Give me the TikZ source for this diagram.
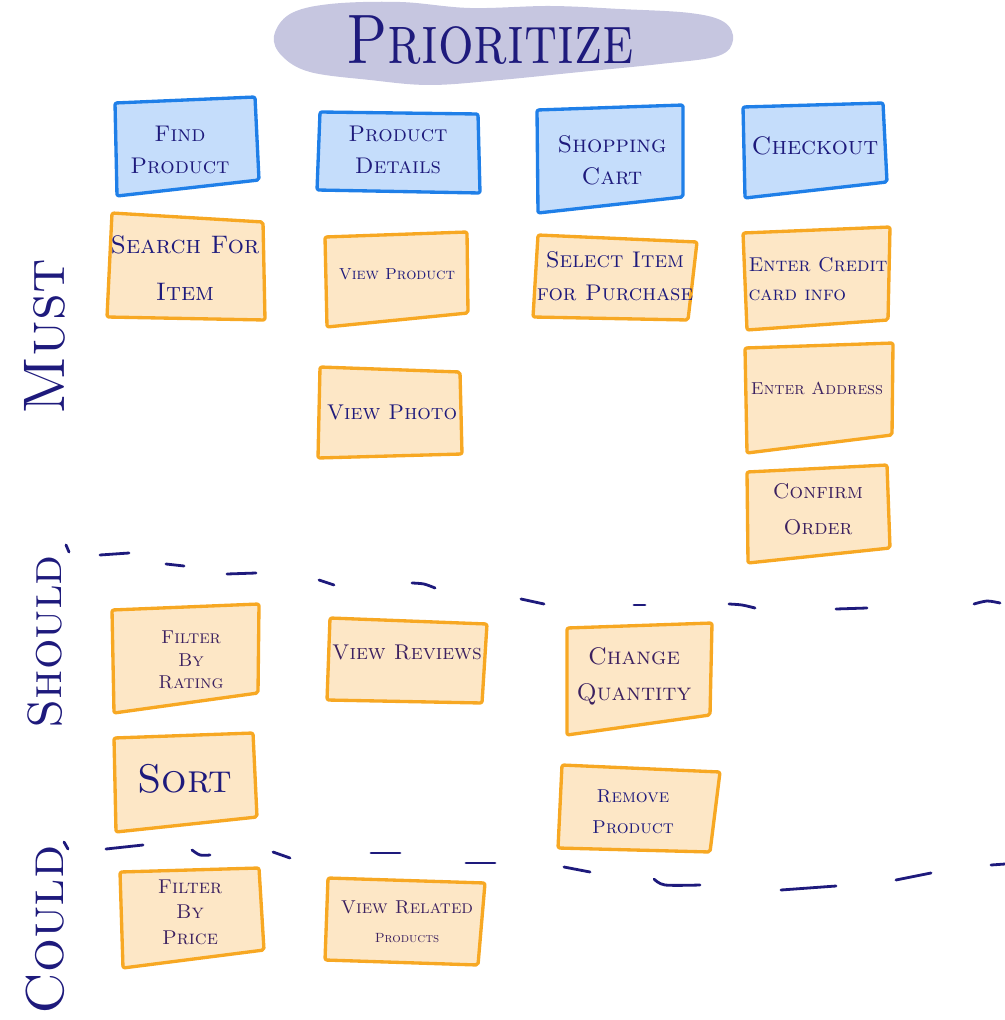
\documentclass[tikz,border=0pt]{standalone}
\usetikzlibrary{calc}

\definecolor{cardblue}{HTML}{1F7FE8}
\definecolor{cardbluefill}{HTML}{C5DDFB}
\definecolor{cardorange}{HTML}{F7A823}
\definecolor{cardorangefill}{HTML}{FDE7C6}
\definecolor{inkblue}{HTML}{1E1A7C}
\definecolor{inkplum}{HTML}{3C2160}
\definecolor{cloud}{HTML}{C6C6E0}

% small-caps font at a given size and line spacing
\newcommand\fs[2]{\scshape\fontsize{#1}{#2}\selectfont}

% \card{name}{style}{corner}{corner}{corner}{corner}{text position}{text options}{text}
\newcommand\card[9]{%
  \draw[#2] (#3) -- (#4) -- (#5) -- (#6) -- cycle;
  \node[cardtext,#8] (#1) at (#7) {#9};}

\tikzset{
  bluecard/.style={draw=cardblue, fill=cardbluefill, line width=2.5pt,
    line join=round, rounded corners=1.5pt},
  orangecard/.style={draw=cardorange, fill=cardorangefill, line width=2.5pt,
    line join=round, rounded corners=1.5pt},
  cardtext/.style={align=center, inner sep=0pt, text=inkblue},
  sidelabel/.style={rotate=90, inner sep=0pt, text=inkblue},
  divider/.style={draw=inkblue, line width=2.1pt, line cap=round},
}

\begin{document}
\begin{tikzpicture}[x=0.75pt, y=-0.75pt]
\useasboundingbox (0,0) rectangle (1005,1020);

% title with its cloud
\fill[cloud] plot[smooth cycle, tension=0.6] coordinates {
  (274,36) (290,14) (330,4) (400,2) (470,8) (550,6) (620,9) (690,13)
  (724,22) (733,40) (718,56) (660,64) (580,72) (500,80) (430,85)
  (370,80) (310,72) (282,56)};
\node[font=\fs{42}{42}, text=inkblue, yscale=1.25, inner sep=0pt] (title)
  at (490,40) {Prioritize};

% activity headers
\card{find}{bluecard}{115,103}{255,97}{259,180}{117,196}{180,150}{font=\fs{17}{24}}{Find\\Product}
\card{details}{bluecard}{320,112}{478,114}{480,193}{317,190}{398,150}{font=\fs{17}{24}}{Product\\Details}
\card{cart}{bluecard}{537,110}{683,105}{683,197}{538,213}{612,160}{font=\fs{18}{24}}{Shopping\\Cart}
\card{checkout}{bluecard}{743,107}{883,103}{887,182}{745,198}{815,146}{font=\fs{19}{20}}{Checkout}

% must
\card{search}{orangecard}{112,213}{263,222}{265,320}{107,317}{185,268}{font=\fs{19}{35}}{Search For\\Item}
\card{viewprod}{orangecard}{325,237}{467,232}{468,313}{327,327}{397,274}{font=\fs{12}{14}}{View Product}
\card{select}{orangecard}{538,235}{697,242}{688,320}{533,317}{615,276}{font=\fs{17}{25}}{Select Item\\for Purchase}
\card{credit}{orangecard}{743,233}{890,227}{888,320}{747,330}{818,279}{font=\fs{15}{22}, align=left}{Enter Credit\\card info}
\card{photo}{orangecard}{320,367}{460,372}{462,454}{318,458}{392,412}{font=\fs{16}{18}}{View Photo}
\card{address}{orangecard}{745,348}{893,343}{892,435}{747,453}{817,388}{font=\fs{13}{14}, text=inkplum}{Enter Address}
\card{confirm}{orangecard}{747,472}{887,465}{890,548}{748,563}{818,509}{font=\fs{16}{27}, text=inkplum}{Confirm\\Order}

% should
\card{rating}{orangecard}{112,610}{259,604}{258,693}{114,713}{191,660}{font=\fs{14}{17}, text=inkplum}{Filter\\By\\Rating}
\card{reviews}{orangecard}{330,618}{487,624}{482,703}{327,700}{407,652}{font=\fs{16}{18}, text=inkplum}{View Reviews}
\card{quantity}{orangecard}{567,628}{712,623}{710,715}{567,735}{634,676}{font=\fs{18}{27}, text=inkplum}{Change\\Quantity}
\card{sort}{orangecard}{114,738}{253,733}{257,817}{116,832}{185,779}{font=\fs{30}{32}}{Sort}
\card{remove}{orangecard}{562,765}{720,772}{710,852}{558,848}{633,812}{font=\fs{14}{23}}{Remove\\Product}

% could
\card{price}{orangecard}{120,872}{259,868}{264,950}{123,968}{190,912}{font=\fs{15}{19}, text=inkplum}{Filter\\By\\Price}
\card{related}{orangecard}{328,878}{485,883}{478,965}{325,960}{407,922}{font=\fs{14}{22}, text=inkplum}{View Related\\{\fs{10}{12}Products}}

% priority labels
\node[sidelabel, font=\fs{44}{44}] (must) at (45,337) {Must};
\node[sidelabel, font=\fs{36}{36}] (should) at (45,642) {Should};
\node[sidelabel, font=\fs{40}{40}] (could) at (45,930) {Could};

% must / should divider
\draw[divider] (66,545) -- (69,552);
\draw[divider] (100,555) -- (129,553);
\draw[divider] (166,564) -- (184,566);
\draw[divider] (227,574) -- (256,573);
\draw[divider] (319,580) -- (334,585);
\draw[divider] plot[smooth] coordinates {(412,583) (424,584) (435,588)};
\draw[divider] (521,599) -- (544,604);
\draw[divider] (634,605) -- (645,605);
\draw[divider] plot[smooth] coordinates {(729,604) (742,605) (755,608)};
\draw[divider] (836,609) -- (867,608);
\draw[divider] plot[smooth] coordinates {(974,604) (987,601) (1000,603)};

% should / could divider
\draw[divider] (64,842) -- (68,849);
\draw[divider] (106,849) -- (143,845);
\draw[divider] plot[smooth] coordinates {(192,850) (200,855) (210,855)};
\draw[divider] (273,852) -- (290,858);
\draw[divider] (371,853) -- (400,853);
\draw[divider] (466,863) -- (495,863);
\draw[divider] (564,867) -- (590,872);
\draw[divider] plot[smooth] coordinates {(654,879) (665,885) (700,885)};
\draw[divider] (781,890) -- (836,886);
\draw[divider] (896,880) -- (931,873);
\draw[divider] (991,865) -- (1005,864);
\end{tikzpicture}
\end{document}
